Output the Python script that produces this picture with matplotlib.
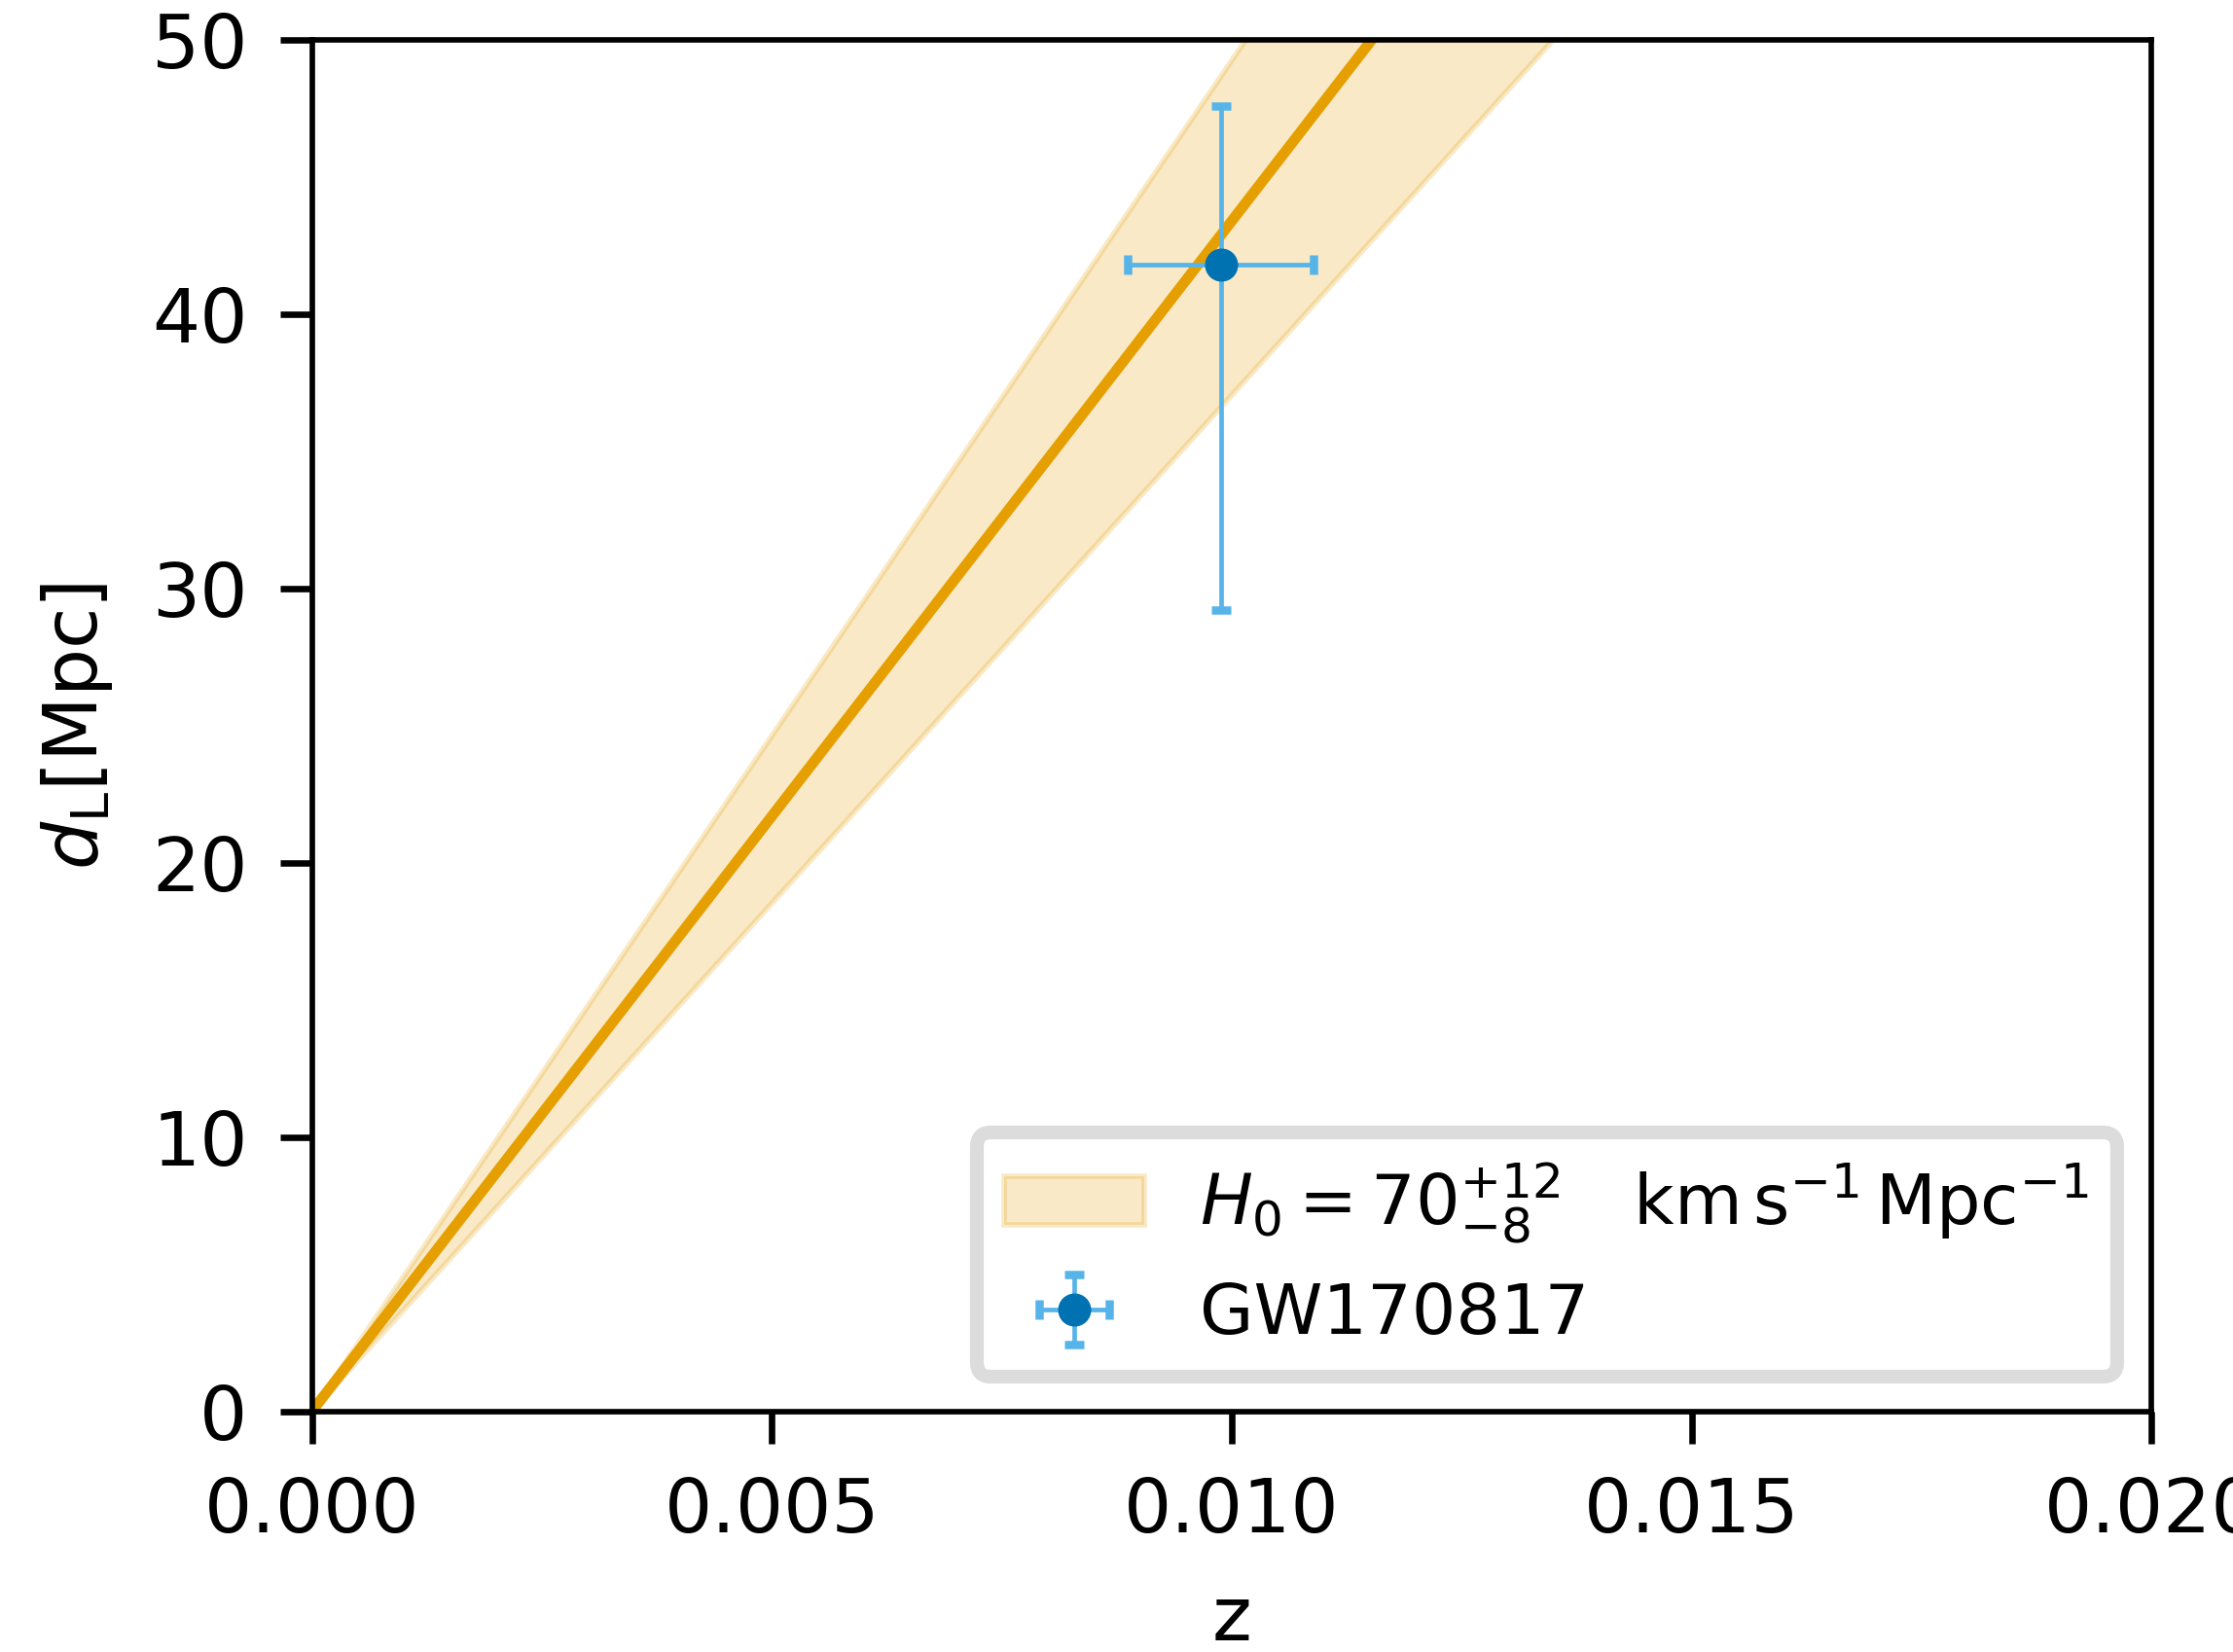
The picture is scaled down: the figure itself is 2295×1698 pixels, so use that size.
import matplotlib
matplotlib.use("Agg")
import matplotlib.pyplot as plt

# ------------------------------
# Data
# ------------------------------
# Hubble-law band: straight lines from the origin to z = 0.02
z_line = [0.0, 0.02]
dl_central = [0.0, 86.8]   # H0 = 70
dl_upper = [0.0, 98.5]     # H0 = 62
dl_lower = [0.0, 74.1]     # H0 = 82

# GW170817 point
gw_z = [0.00988]
gw_dl = [41.8]
gw_zerr = [0.00101]
gw_dl_err_low = [12.6]
gw_dl_err_high = [5.8]

x_ticks = [0.0, 0.005, 0.010, 0.015, 0.020]
y_ticks = [0, 10, 20, 30, 40, 50]

band_label = r"$H_0 = 70^{+12}_{-8}\quad \mathrm{km\,s^{-1}\,Mpc^{-1}}$"
point_label = "GW170817"

# ------------------------------
# Style
# ------------------------------
plt.rcParams["font.size"] = 8.2
plt.rcParams["axes.linewidth"] = 0.6
plt.rcParams["xtick.major.width"] = 0.7
plt.rcParams["ytick.major.width"] = 0.7

orange = "#E69F00"
sky = "#56B4E9"
blue = "#0072B2"

fig = plt.figure(figsize=(2295 / 680, 1698 / 680), dpi=680)
ax = fig.add_axes([0.1397, 0.1457, 0.9636 - 0.1397, 0.9759 - 0.1457])

ax.fill_between(z_line, dl_lower, dl_upper, color=orange, alpha=0.22, lw=0.6,
                label=band_label)
ax.plot(z_line, dl_central, color=orange, lw=1.15)
ax.errorbar(gw_z, gw_dl, xerr=gw_zerr, yerr=[gw_dl_err_low, gw_dl_err_high],
            fmt="o", color=blue, ms=2.6, ecolor=sky, elinewidth=0.5,
            capsize=1.1, capthick=0.9, label=point_label)

ax.set_xlim(0, 0.02)
ax.set_ylim(0, 50)
ax.set_xticks(x_ticks)
ax.set_yticks(y_ticks)
ax.set_xlabel("z")
ax.set_ylabel(r"$d_{\mathrm{L}} [\mathrm{Mpc}]$")

leg = ax.legend(loc="lower right", fontsize=7.6)
leg.get_frame().set_linewidth(1.5)
leg.get_frame().set_edgecolor("0.83")

fig.savefig("out.png", dpi=680)
